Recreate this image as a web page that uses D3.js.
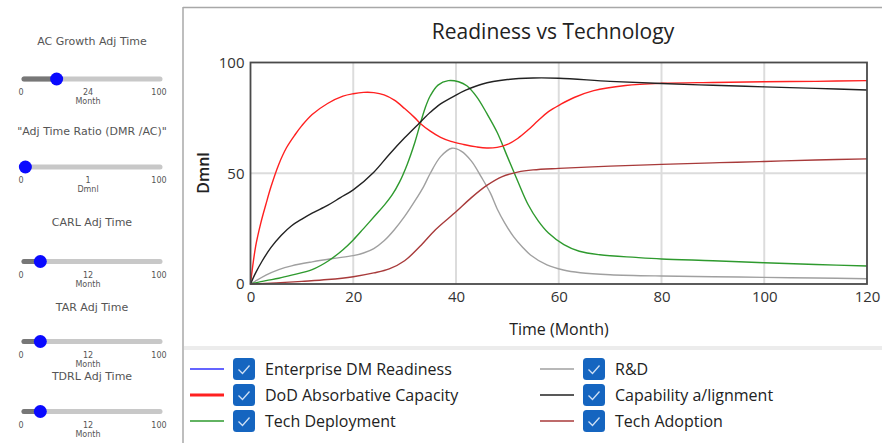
<!DOCTYPE html>
<html><head><meta charset="utf-8">
<script src="https://cdn.jsdelivr.net/npm/d3@7"></script>
<style>
html,body{margin:0;padding:0;background:#fff;}
svg{display:block;}
</style></head>
<body><svg id="c" width="882" height="443"></svg>
<script>
// ---------------- data ----------------
const chartTitle = "Readiness vs Technology";
const xTicks = [0, 20, 40, 60, 80, 100, 120];
const yTicks = [0, 50, 100];
const xLabel = "Time (Month)";
const yLabel = "Dmnl";

const seriesNames = ["Enterprise DM Readiness", "DoD Absorbative Capacity", "Tech Deployment",
                     "R&D", "Capability a/lignment", "Tech Adoption"];
const seriesColors = ["#3030ff", "#ff2020", "#2e9a2e", "#a0a0a0", "#222222", "#a83a3a"];

// [month, value] pairs
const dodAbsorb = [[0,0],[1,17],[2,27.5],[3,36],[4,44],[5.5,54],[7,61.5],[8.7,67.5],[10,71.5],[12,76.5],[15,81.5],[18,84.8],[20,85.9],[22,86.5],[24,86.4],[26,85.4],[28,83],[30,79.2],[32,75],[33,72.6],[35,69],[37,66.2],[39,64.4],[41.5,63],[44,61.9],[46,61.4],[48,61.7],[50,63],[52,65.7],[54,69.5],[56,73.8],[58,77.8],[60.3,81],[63,84.2],[66.8,87.3],[73,89.6],[80,90.6],[90,91],[100,91.3],[110,91.5],[120,91.8]];
const techDeploy = [[0,0],[3,1.5],[5.5,2.6],[8,4],[12,6.5],[15.2,10.5],[18,15.5],[20,19.9],[22,25],[24.3,31],[26,35.5],[27.5,40],[29,46],[30.5,54],[32,64],[33,72],[34,79.5],[35,85],[36.5,89.8],[38.5,91.8],[40.5,91.3],[42.1,89.5],[44,84.6],[46,77],[48,68.5],[50,57.5],[52,46.5],[54,36],[56,28.5],[58,23],[61,17.8],[64,14.8],[68,13.2],[75,12],[80,11.3],[90,10.5],[100,9.6],[110,8.8],[120,8.1]];
const rAndD = [[0,0],[3,4],[5.5,6.5],[8,8.2],[12,10],[16,11.5],[20,12.8],[22,14],[24,16],[26,19.5],[28,24.5],[30,30.5],[32,37.5],[33.7,44],[35,50],[37,57.5],[39.2,61.3],[41,60],[43,55.5],[45,48],[46.7,41],[48,34],[49.5,27.5],[51.2,21.4],[53,16.5],[54.5,13.1],[57.7,8.6],[60.9,6.3],[64.2,5.1],[70,4.2],[80,3.6],[90,3.3],[100,3],[110,2.7],[120,2.4]];
const capAlign = [[0,0],[1,5],[2.3,10.5],[4,16.5],[6,22],[8,26.3],[10,29.3],[12,32],[15,35.5],[17.5,39],[20,42.5],[24,50.5],[27,58.5],[30,66],[32.8,72.5],[35,77.5],[37,81.3],[40,85.3],[42,87.6],[45,90.2],[50,92.3],[55,93],[60,92.9],[70,91.5],[80,90.5],[90,89.7],[100,89],[110,88.3],[120,87.6]];
const techAdopt = [[0,0],[5,0.5],[10,1.2],[15,2],[20,3.3],[24,5],[27,6.8],[30,10.5],[33,17],[36,24.5],[40,32.6],[43,39],[46,44.5],[49,48.5],[52,50.5],[55,51.5],[60,52.2],[70,53.2],[80,54],[90,54.7],[100,55.3],[110,56],[120,56.5]];
const seriesData = [null, dodAbsorb, techDeploy, rAndD, capAlign, techAdopt];

const sliderTitles = ["AC Growth Adj Time", "\"Adj Time Ratio (DMR /AC)\"", "CARL Adj Time", "TAR Adj Time", "TDRL Adj Time"];
const sliderValues = [24, 1, 12, 12, 12];
const sliderUnits = ["Month", "Dmnl", "Month", "Month", "Month"];
const sliderMin = 0, sliderMax = 100;

// ---------------- layout ----------------
const svg = d3.select("#c");
const FONT = "'Open Sans', 'Noto Sans', sans-serif";
const SFONT = "'DejaVu Sans', sans-serif";

svg.append("rect").attr("x",0).attr("y",0).attr("width",882).attr("height",443).attr("fill","#fff");
svg.append("line").attr("x1",183).attr("x2",882).attr("y1",7.5).attr("y2",7.5).attr("stroke","#a8a8a8").attr("stroke-width",1.5);
svg.append("line").attr("x1",183).attr("x2",183).attr("y1",7).attr("y2",443).attr("stroke","#a8a8a8").attr("stroke-width",1.5);
svg.append("rect").attr("x",184).attr("y",346).attr("width",698).attr("height",4).attr("fill","#ececec");

// ---------------- chart ----------------
const x = d3.scaleLinear().domain([0,120]).range([250.5, 867]);
const y = d3.scaleLinear().domain([0,100]).range([284, 62.5]);

const g = svg.append("g");
g.selectAll("line.gx").data(xTicks.filter(t=>t>0 && t<120)).join("line")
  .attr("x1",d=>x(d)).attr("x2",d=>x(d)).attr("y1",y(100)).attr("y2",y(0))
  .attr("stroke","#dcdcdc").attr("stroke-width",2);
g.selectAll("line.gy").data(yTicks.filter(t=>t>0 && t<100)).join("line")
  .attr("x1",x(0)).attr("x2",x(120)).attr("y1",d=>y(d)).attr("y2",d=>y(d))
  .attr("stroke","#dcdcdc").attr("stroke-width",2);

const line = d3.line().x(d=>x(d[0])).y(d=>y(Math.max(0,d[1]))).curve(d3.curveCatmullRom.alpha(0.5));
const drawOrder = [3,2,5,1,4];
drawOrder.forEach(i=>{
  g.append("path").datum(seriesData[i]).attr("d",line).attr("fill","none")
   .attr("stroke",seriesColors[i]).attr("stroke-width",1.4).attr("stroke-linejoin","round");
});

g.append("rect").attr("x",x(0)).attr("y",y(100)).attr("width",x(120)-x(0)).attr("height",y(0)-y(100))
  .attr("fill","none").attr("stroke","#4a4a4a").attr("stroke-width",1.8);

const xAxis = d3.axisBottom(x).tickValues(xTicks).tickSize(0).tickPadding(0);
const ax = svg.append("g").attr("transform",`translate(0,${y(0)})`).call(xAxis);
ax.select(".domain").remove();
ax.selectAll("text").attr("font-family",FONT).attr("font-size",15).attr("fill","#333").attr("dy","1.1em").attr("y",1);

const yAxis = d3.axisLeft(y).tickValues(yTicks).tickSize(0).tickPadding(6);
const ay = svg.append("g").attr("transform",`translate(${x(0)},0)`).call(yAxis);
ay.select(".domain").remove();
ay.selectAll("text").attr("font-family",FONT).attr("font-size",15).attr("fill","#333");

svg.append("text").attr("x",553).attr("y",31).attr("text-anchor","middle").attr("dominant-baseline","central")
  .attr("font-family",FONT).attr("font-size",21).attr("fill","#222").text(chartTitle);
svg.append("text").attr("transform","translate(203,173) rotate(-90)").attr("text-anchor","middle")
  .attr("dominant-baseline","central").attr("font-family",FONT).attr("font-size",16).attr("font-weight",600).attr("fill","#222").text(yLabel);
svg.append("text").attr("x",559).attr("y",329).attr("text-anchor","middle").attr("dominant-baseline","central")
  .attr("font-family",FONT).attr("font-size",16).attr("fill","#222").text(xLabel);

// ---------------- legend ----------------
const legCols = [190, 540];
const legRows = [369, 395, 421];
seriesNames.forEach((name,i)=>{
  const cx = legCols[Math.floor(i/3)], cy = legRows[i%3];
  const lg = svg.append("g").attr("transform",`translate(${cx},${cy})`);
  lg.append("line").attr("x1",0).attr("x2",34).attr("y1",0).attr("y2",0)
    .attr("stroke",seriesColors[i]).attr("stroke-width", i===1 ? 3 : 1.5);
  lg.append("rect").attr("x",43).attr("y",-11).attr("width",22).attr("height",22).attr("rx",3.5)
    .attr("fill","#1565c0");
  lg.append("path").attr("d","M48.5,0.5 L52.5,4.5 L59.5,-3.5").attr("fill","none")
    .attr("stroke","#cfe0f5").attr("stroke-width",1.3);
  lg.append("text").attr("x",75).attr("y",0).attr("dominant-baseline","central")
    .attr("font-family",FONT).attr("font-size",16).attr("fill","#222").text(name);
});

// ---------------- sliders ----------------
const sTitleY = [41.5, 131, 222, 307, 376.5];
const sTrackY = [79, 167, 261.5, 341.5, 411.5];
const sx = d3.scaleLinear().domain([sliderMin, sliderMax]).range([24, 160]);
sliderTitles.forEach((t,i)=>{
  const ty = sTrackY[i];
  svg.append("text").attr("x",92).attr("y",sTitleY[i]).attr("text-anchor","middle").attr("dominant-baseline","central")
    .attr("font-family",SFONT).attr("font-size",11).attr("fill","#555").text(t);
  svg.append("line").attr("x1",sx(sliderMin)).attr("x2",sx(sliderMax)).attr("y1",ty).attr("y2",ty)
    .attr("stroke","#c8c8c8").attr("stroke-width",5).attr("stroke-linecap","round");
  svg.append("line").attr("x1",sx(sliderMin)).attr("x2",sx(sliderValues[i])).attr("y1",ty).attr("y2",ty)
    .attr("stroke","#777").attr("stroke-width",5).attr("stroke-linecap","round");
  svg.append("circle").attr("cx",sx(sliderValues[i])).attr("cy",ty).attr("r",6.5).attr("fill","#0a0aff");
  const ly = ty + 13.5;
  svg.append("text").attr("x",21).attr("y",ly).attr("text-anchor","middle").attr("dominant-baseline","central")
    .attr("font-family",SFONT).attr("font-size",8).attr("fill","#555").text(sliderMin);
  svg.append("text").attr("x",159).attr("y",ly).attr("text-anchor","middle").attr("dominant-baseline","central")
    .attr("font-family",SFONT).attr("font-size",8).attr("fill","#555").text(sliderMax);
  svg.append("text").attr("x",88).attr("y",ly).attr("text-anchor","middle").attr("dominant-baseline","central")
    .attr("font-family",SFONT).attr("font-size",8).attr("fill","#555").text(sliderValues[i]);
  svg.append("text").attr("x",88).attr("y",ty+22.5).attr("text-anchor","middle").attr("dominant-baseline","central")
    .attr("font-family",SFONT).attr("font-size",8).attr("fill","#555").text(sliderUnits[i]);
});
</script></body></html>
